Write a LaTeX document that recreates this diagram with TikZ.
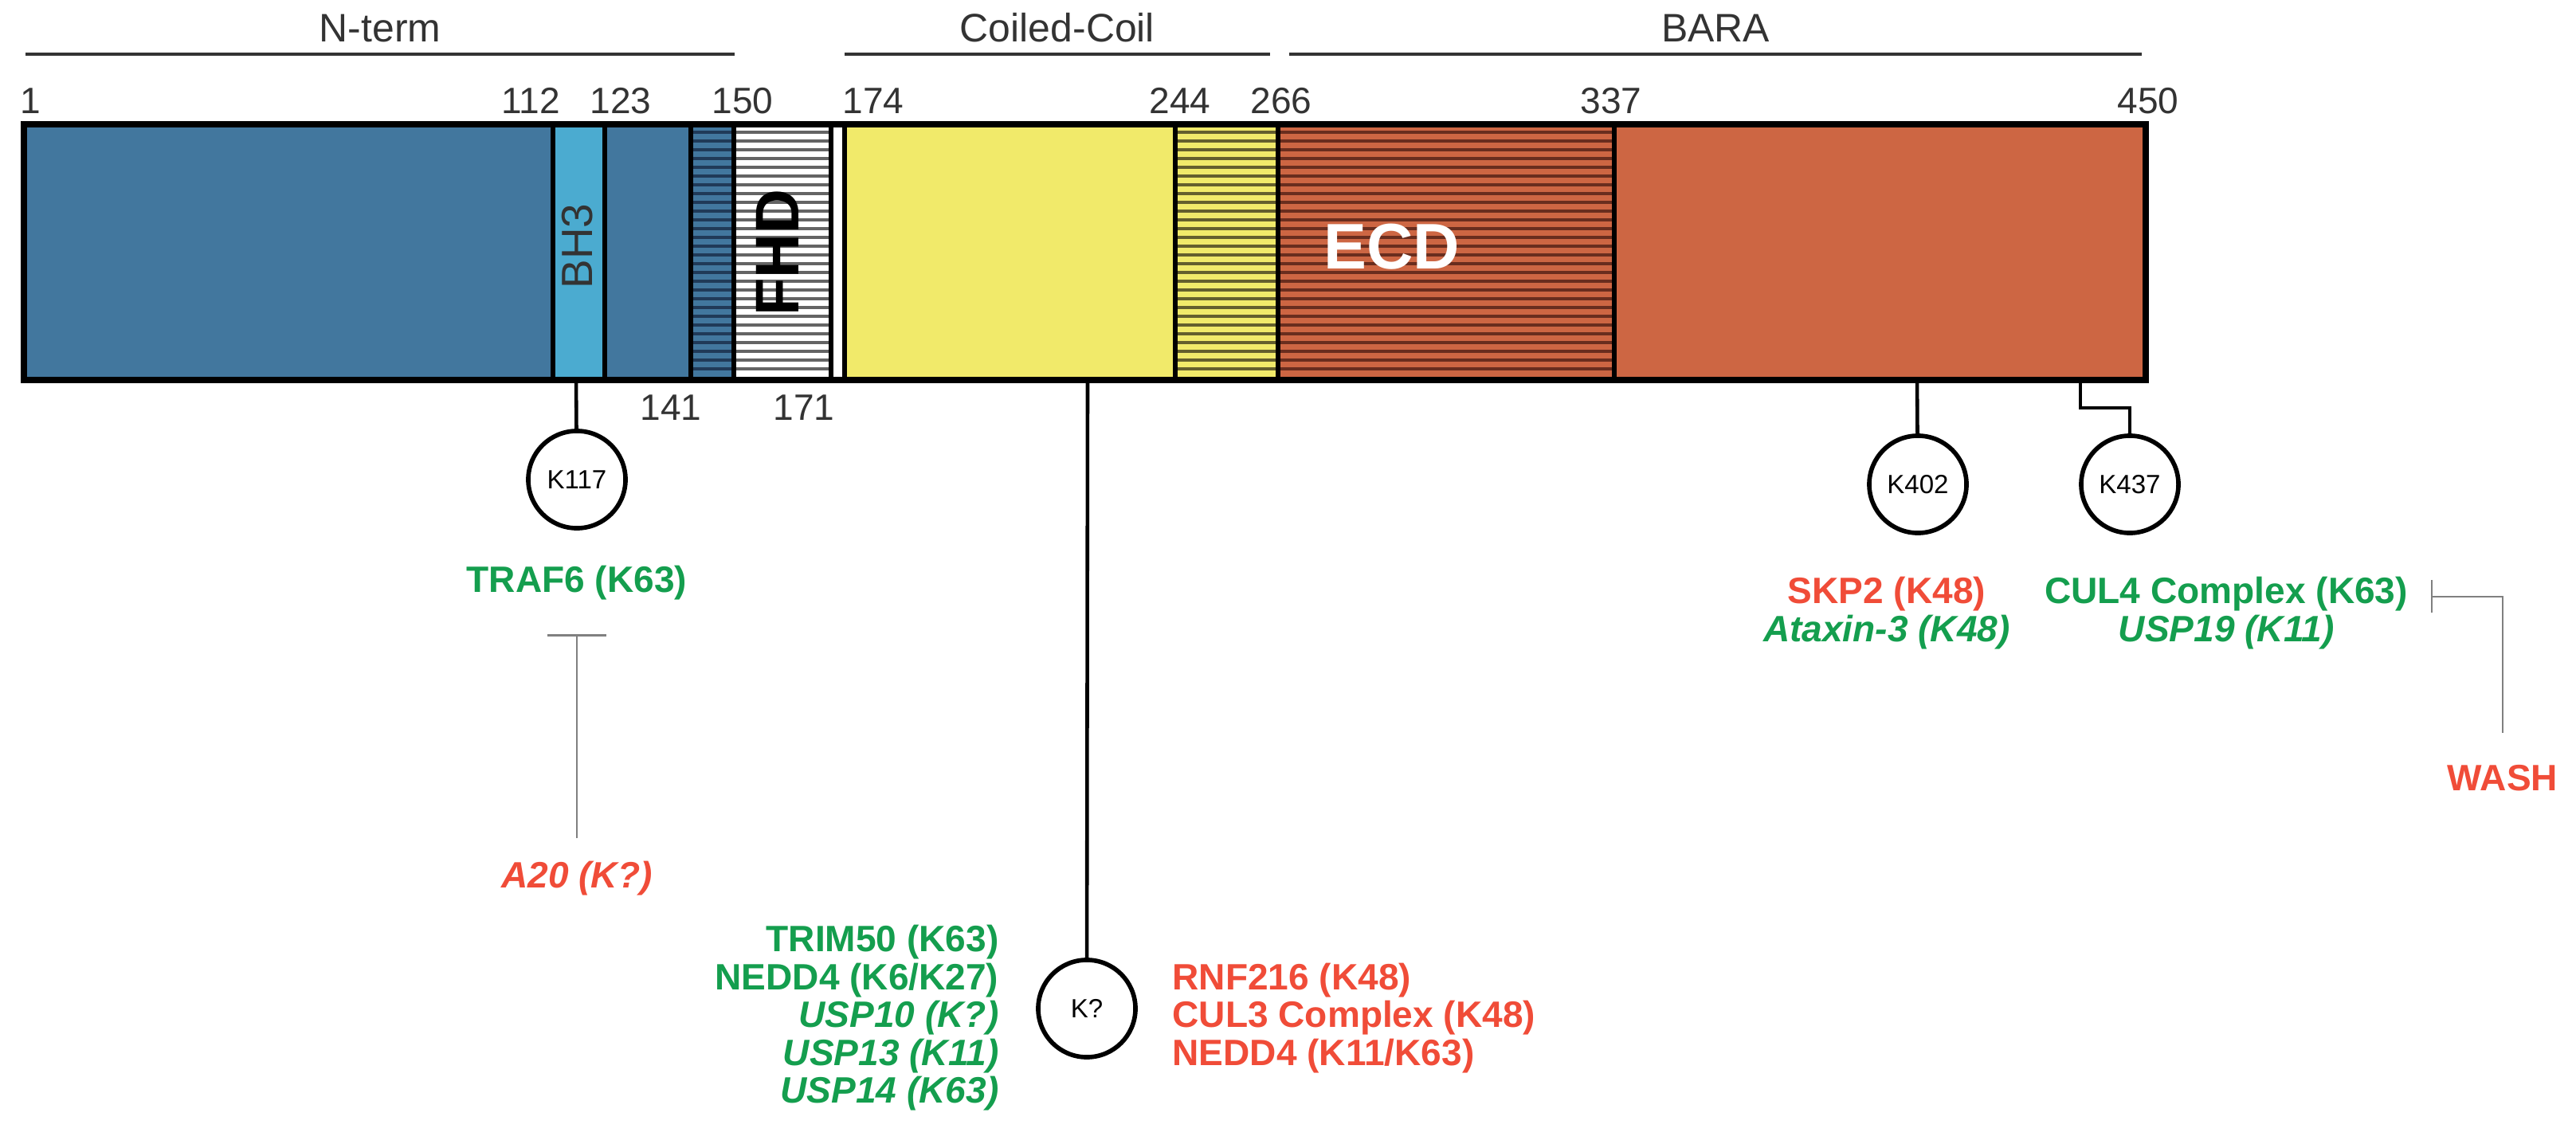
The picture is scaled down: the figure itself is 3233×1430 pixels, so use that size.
\documentclass[tikz,border=0pt]{standalone}
\usepackage{fontspec}
\setmainfont{Liberation Sans}
\usepackage{xcolor}
\usepackage{tikz}
\usetikzlibrary{arrows.meta,positioning}

\definecolor{ubblue}{RGB}{66,119,158}
\definecolor{ublight}{RGB}{75,171,208}
\definecolor{ubyellow}{RGB}{241,234,106}
\definecolor{uborange}{RGB}{205,102,67}
\definecolor{ubnavy}{RGB}{32,58,88}
\definecolor{ubgrey}{RGB}{100,100,100}
\definecolor{ubolive}{RGB}{100,95,45}
\definecolor{ubbrown}{RGB}{105,45,30}
\definecolor{ubgreen}{RGB}{20,158,78}
\definecolor{ubred}{RGB}{240,76,56}
\definecolor{ubtext}{RGB}{51,51,51}

\begin{document}
\begin{tikzpicture}[x=0.01cm, y=-0.01cm,
        barframe/.style={draw=black, line width=2.5pt},
        divider/.style={line width=1.6pt},
        stripe/.style={line width=1.1pt},
        domline/.style={draw=ubtext, line width=1.2pt},
        toplbl/.style={font=\fontsize{14.2}{16}\selectfont, text=ubtext, inner sep=0pt},
        resnum/.style={font=\fontsize{13.1}{15}\selectfont, text=ubtext, inner sep=0pt, anchor=base},
        lys/.style={draw, circle, line width=1.6pt, minimum size=1.22cm, inner sep=0pt, font=\fontsize{9.4}{10}\selectfont},
        stalk/.style={line width=1.3pt},
        lbl/.style={font=\fontsize{13.1}{13.5}\selectfont\bfseries, inner sep=0pt, align=center},
        ubg/.style={lbl, text=ubgreen},
        ubr/.style={lbl, text=ubred},
        inhib/.style={draw=gray, line width=0.7pt}
    ]
        \useasboundingbox (0,0) rectangle (3233,1430);

        % domains
        \foreach \xa/\xb/\col in {30/694/ubblue, 694/759/ublight, 759/867/ubblue, 867/921/ubblue,
                921/1043/white, 1043/1060/white, 1060/1475/ubyellow, 1475/1604/ubyellow,
                1604/2026/uborange, 2026/2693/uborange}
            \fill[\col] (\xa,156) rectangle (\xb,477);
        \foreach \xa/\xb/\col in {867/921/ubnavy, 921/1043/ubgrey, 1475/1604/ubolive, 1604/2026/ubbrown}
            \foreach \yy in {166,177,...,470}
                \draw[stripe, \col] (\xa,\yy) -- (\xb,\yy);
        \foreach \xx in {694,759,867,921,1043,1060,1475,1604,2026}
            \draw[divider] (\xx,156) -- (\xx,477);
        \draw[barframe] (30,156) rectangle (2693,477);

        \node[rotate=90, font=\fontsize{15.6}{17}\selectfont, text=ubtext] (bh3) at (725,309) {BH3};
        \node[rotate=90, font=\fontsize{22}{24}\selectfont\bfseries] (fhd) at (976,317) {FHD};
        \node[font=\fontsize{23}{25}\selectfont\bfseries, text=white] (ecd) at (1747,310) {ECD};

        % regions and residue numbers
        \draw[domline] (32,68) -- node[toplbl, above=0.13cm] (nterm) {N-term} (922,68);
        \draw[domline] (1060,68) -- node[toplbl, above=0.13cm] (coil) {Coiled-Coil} (1594,68);
        \draw[domline] (1618,68) -- node[toplbl, above=0.13cm] (bara) {BARA} (2688,68);

        \foreach \x/\n in {38/1, 666/112, 779/123, 932/150, 1096/174, 1481/244, 1608/266, 2022/337, 2696/450}
            \node[resnum] at (\x,142) {\n};
        \foreach \x/\n in {842/141, 1009/171}
            \node[resnum] at (\x,527) {\n};

        % ubiquitination sites
        \coordinate (b117) at (723,477);
        \coordinate (bkq) at (1365,477);
        \coordinate (b402) at (2406,477);
        \coordinate (b437) at (2611,477);

        \node[lys] (k117) at (724,602) {K117};
        \node[lys] (kq) at (1364,1266) {K?};
        \node[lys] (k402) at (2407,608) {K402};
        \node[lys] (k437) at (2673,608) {K437};

        \draw[stalk] (b117) -- (k117);
        \draw[stalk] (bkq) -- (kq);
        \draw[stalk] (b402) -- (k402);
        \draw[stalk] (b437) -- ++(0,35) -| (k437);

        \node[ubg, below=0.44cm of k117] (traf6) {TRAF6 (K63)};
        \node[ubr, below=3.26cm of traf6] (a20) {\textit{A20 (K?)}};
        \draw[inhib, -{Bar[width=0.74cm]}, shorten <=0.28cm, shorten >=0.42cm] (a20.north) -- (a20.north |- traf6.south);

        \node[ubg, align=right, left=0.46cm of kq, yshift=-0.12cm] (kqleft)
            {TRIM50 (K63)\\NEDD4 (K6/K27)\\\textit{USP10 (K?)}\\\textit{USP13 (K11)}\\\textit{USP14 (K63)}};
        \node[ubr, align=left, right=0.43cm of kq, yshift=-0.12cm] (kqright)
            {RNF216 (K48)\\CUL3 Complex (K48)\\NEDD4 (K11/K63)};

        \node[ubr, below=0.52cm of k402, xshift=-0.39cm] (skp2)
            {SKP2 (K48)\\\textcolor{ubgreen}{\itshape Ataxin-3 (K48)}};
        \node[ubg, right=0.42cm of skp2] (cul4) {CUL4 Complex (K63)\\\textit{USP19 (K11)}};
        \node[ubr] (wash) at (3141,977) {WASH};
        \draw[inhib, -{Bar[width=0.41cm]}, shorten <=0.4cm, shorten >=0.28cm] (wash.north) |- ([yshift=-0.25cm]cul4.north east);
    \end{tikzpicture}
\end{document}
